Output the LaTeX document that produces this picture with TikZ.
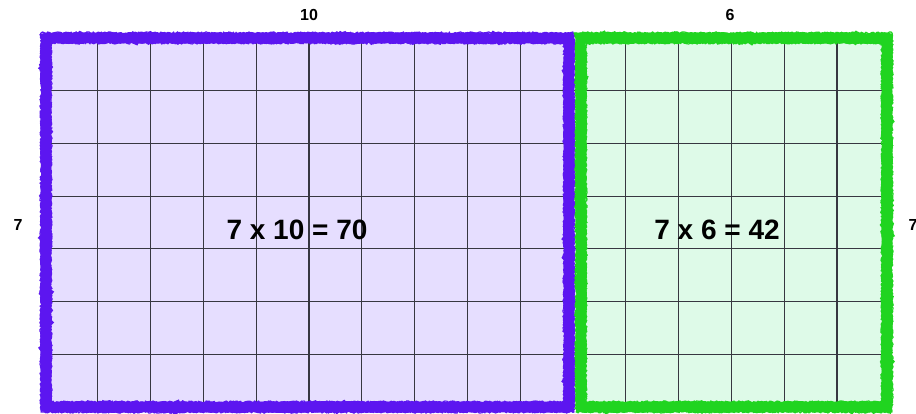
\documentclass[tikz,border=0pt]{standalone}
\usepackage{fontspec}
\setmainfont{Liberation Sans}
\usetikzlibrary{decorations.pathmorphing}
\definecolor{pborder}{RGB}{92,22,240}
\definecolor{pfill}{RGB}{230,222,255}
\definecolor{gborder}{RGB}{32,212,32}
\definecolor{gfill}{RGB}{222,250,232}
\definecolor{gridc}{RGB}{55,55,65}
\tikzset{
  gridline/.style={draw=gridc, line width=1.2pt},
  roughborder/.style={line width=10.5pt, line join=miter, decorate,
     decoration={random steps, segment length=1.6pt, amplitude=0.7pt}},
  fuzz/.style={line width=1.2pt, line join=round, line cap=round, decorate,
     decoration={random steps, segment length=1.2pt, amplitude=1.1pt}},
  bigtxt/.style={font=\bfseries\fontsize{28}{28}\selectfont, inner sep=0pt},
  smalltxt/.style={font=\bfseries\fontsize{16}{16}\selectfont, inner sep=0pt}
}
\begin{document}
\begin{tikzpicture}[x=1pt,y=-1pt]
\useasboundingbox (0,0) rectangle (916,413);
\clip (0,0) rectangle (916,413);
\fill[white] (0,0) rectangle (916,413);
\fill[pfill] (45,38) rectangle (573,407);
\fill[gfill] (573,38) rectangle (890,407);
\foreach \i in {1,...,9} \draw[gridline] ({45+\i*52.8},38) -- ({45+\i*52.8},407);
\foreach \i in {1,...,5} \draw[gridline] ({573+\i*52.8},38) -- ({573+\i*52.8},407);
\foreach \j in {1,...,6} \draw[gridline] (45,{38+\j*52.7}) -- (890,{38+\j*52.7});
\draw[roughborder, draw=pborder] (46,38) -- (569,38) -- (569,407) -- (46,407) -- cycle;
\draw[fuzz, draw=pborder] (41,33) -- (574,33) -- (574,412) -- (41,412) -- cycle;
\draw[fuzz, draw=pborder] (51,43) -- (564,43) -- (564,402) -- (51,402) -- cycle;
\draw[roughborder, draw=gborder] (581,38) -- (887,38) -- (887,407) -- (581,407) -- cycle;
\draw[fuzz, draw=gborder] (576,33) -- (892,33) -- (892,412) -- (576,412) -- cycle;
\draw[fuzz, draw=gborder] (586,43) -- (882,43) -- (882,402) -- (586,402) -- cycle;
\node[bigtxt] (eq1) at (297,230) {7 x 10 = 70};
\node[bigtxt] (eq2) at (717,230) {7 x 6 = 42};
\node[smalltxt] (top1) at (309,15) {10};
\node[smalltxt] (top2) at (730,15) {6};
\node[smalltxt] (left7) at (18,225) {7};
\node[smalltxt] (right7) at (913,225) {7};
\end{tikzpicture}
\end{document}
